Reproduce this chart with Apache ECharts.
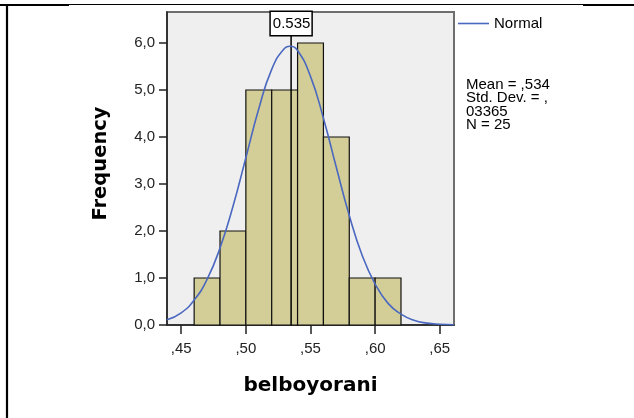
<!DOCTYPE html>
<html>
<head>
<meta charset="utf-8">
<style>
  html, body { margin: 0; padding: 0; background: #fff; }
  #chart { width: 634px; height: 418px; }
</style>
<script src="https://cdn.jsdelivr.net/npm/echarts@6/dist/echarts.min.js"></script>
</head>
<body>
<div id="chart"></div>
<script>
// Histogram bins of belboyorani (bin edges and frequencies)
const binEdges = [0.46, 0.48, 0.50, 0.52, 0.54, 0.56, 0.58, 0.60, 0.62];
const binCounts = [1, 2, 5, 5, 6, 4, 1, 1];

// Fitted normal curve, sampled along the x range
const normX = [0.439, 0.45, 0.46, 0.47, 0.48, 0.49, 0.50, 0.51, 0.52, 0.53, 0.534, 0.54, 0.55, 0.56, 0.57, 0.58, 0.59, 0.60, 0.61, 0.62, 0.63, 0.64, 0.65, 0.661];
const normY = [0.11, 0.26, 0.53, 0.97, 1.64, 2.52, 3.56, 4.60, 5.44, 5.89, 5.93, 5.84, 5.29, 4.40, 3.35, 2.33, 1.48, 0.87, 0.46, 0.23, 0.10, 0.04, 0.016, 0.005];

// Reference marker
const markerValue = 0.535;
const markerLabel = '0.535';

// Axis ticks
const xTickValues = [0.45, 0.50, 0.55, 0.60, 0.65];
const xTickLabels = [',45', ',50', ',55', ',60', ',65'];
const yTickValues = [0, 1, 2, 3, 4, 5, 6];
const yTickLabels = ['0,0', '1,0', '2,0', '3,0', '4,0', '5,0', '6,0'];

// Summary statistics shown beside the plot
const statLines = ['Mean = ,534', 'Std. Dev. = ,', '03365', 'N = 25'];

const FONT = '"Liberation Sans", Arial, sans-serif';
const BOLD = '"DejaVu Sans", sans-serif';
const CURVE = '#4a68c0';

const binData = binCounts.map((c, i) => [binEdges[i], binEdges[i + 1], c]);
const curveData = normX.map((x, i) => [x, normY[i]]);

const GRID = { left: 167, top: 12, right: 180, bottom: 93 };

const chart = echarts.init(document.getElementById('chart'), null, { renderer: 'canvas' });

chart.setOption({
  animation: false,
  backgroundColor: '#ffffff',
  grid: {
    left: GRID.left, top: GRID.top, right: GRID.right, bottom: GRID.bottom,
    show: true, backgroundColor: '#efefef', borderColor: '#6e6e6e', borderWidth: 2
  },
  legend: {
    data: [{ name: 'Normal', icon: 'rect' }],
    left: 458, top: 16, padding: 0,
    itemWidth: 31, itemHeight: 1.6, itemGap: 4,
    itemStyle: { color: CURVE },
    textStyle: { fontFamily: FONT, fontSize: 15, color: '#000' }
  },
  xAxis: {
    type: 'value',
    min: 0.439, max: 0.661,
    name: 'belboyorani',
    nameLocation: 'middle',
    nameGap: 51,
    nameTextStyle: { fontFamily: BOLD, fontWeight: 'bold', fontSize: 20, color: '#000' },
    splitLine: { show: false },
    axisLine: { show: true, onZero: false, lineStyle: { color: '#222', width: 1.5 } },
    axisTick: { show: true, length: 9, customValues: xTickValues, lineStyle: { color: '#222', width: 1.5 } },
    axisLabel: {
      customValues: xTickValues,
      margin: 16,
      fontFamily: FONT, fontSize: 15, color: '#222',
      formatter: v => xTickLabels[xTickValues.findIndex(t => Math.abs(t - v) < 1e-9)]
    }
  },
  yAxis: {
    type: 'value',
    min: 0, max: 6.66,
    name: 'Frequency',
    nameLocation: 'middle',
    nameRotate: 90,
    nameGap: 56,
    nameTextStyle: { fontFamily: BOLD, fontWeight: 'bold', fontSize: 19.5, color: '#000', padding: [0, 0, 0, 10] },
    splitLine: { show: false },
    axisLine: { show: true, onZero: false, lineStyle: { color: '#222', width: 1.5 } },
    axisTick: { show: true, length: 8, customValues: yTickValues, lineStyle: { color: '#222', width: 1.5 } },
    axisLabel: {
      customValues: yTickValues,
      margin: 12,
      fontFamily: FONT, fontSize: 15, color: '#222',
      formatter: v => yTickLabels[yTickValues.findIndex(t => Math.abs(t - v) < 1e-9)]
    }
  },
  series: [
    {
      name: 'Histogram',
      type: 'custom',
      z: 2,
      data: binData,
      renderItem: (params, api) => {
        const topLeft = api.coord([api.value(0), api.value(2)]);
        const botRight = api.coord([api.value(1), 0]);
        return {
          type: 'rect',
          shape: { x: topLeft[0], y: topLeft[1], width: botRight[0] - topLeft[0], height: botRight[1] - topLeft[1] },
          style: { fill: '#d3ce97', stroke: '#111', lineWidth: 1.2 }
        };
      }
    },
    {
      name: 'Marker',
      type: 'custom',
      z: 3,
      data: [[markerValue]],
      renderItem: (params, api) => {
        const base = api.coord([api.value(0), 0]);
        const top = params.coordSys.y;
        return {
          type: 'group',
          children: [
            {
              type: 'line',
              shape: { x1: base[0], y1: base[1], x2: base[0], y2: top },
              style: { stroke: '#000', lineWidth: 1.5 }
            },
            {
              type: 'text',
              x: base[0], y: top,
              style: {
                text: markerLabel,
                font: '15px ' + FONT,
                fill: '#000',
                align: 'center', verticalAlign: 'top',
                backgroundColor: '#fff', borderColor: '#000', borderWidth: 1.5,
                padding: [3, 1, 3, 2], lineHeight: 17
              }
            }
          ]
        };
      }
    },
    {
      name: 'Normal',
      type: 'line',
      z: 4,
      data: curveData,
      smooth: true,
      symbol: 'none',
      lineStyle: { color: CURVE, width: 1.6 },
      itemStyle: { color: CURVE }
    }
  ],
  graphic: [
    // surrounding table rules
    { type: 'line', shape: { x1: 7, y1: 4, x2: 7, y2: 418 }, style: { stroke: '#000', lineWidth: 2.2 } },
    { type: 'line', shape: { x1: 0, y1: 5, x2: 69, y2: 5 }, style: { stroke: '#000', lineWidth: 2.2 } },
    { type: 'line', shape: { x1: 69, y1: 4.5, x2: 583, y2: 4.5 }, style: { stroke: '#000', lineWidth: 1.1 } },
    { type: 'line', shape: { x1: 583, y1: 5, x2: 634, y2: 5 }, style: { stroke: '#000', lineWidth: 2.2 } },
    {
      type: 'text',
      left: 466, top: 77,
      style: {
        text: statLines.join('\n'),
        font: '15px ' + FONT,
        fill: '#000',
        lineHeight: 13.5
      }
    }
  ]
});
</script>
</body>
</html>
